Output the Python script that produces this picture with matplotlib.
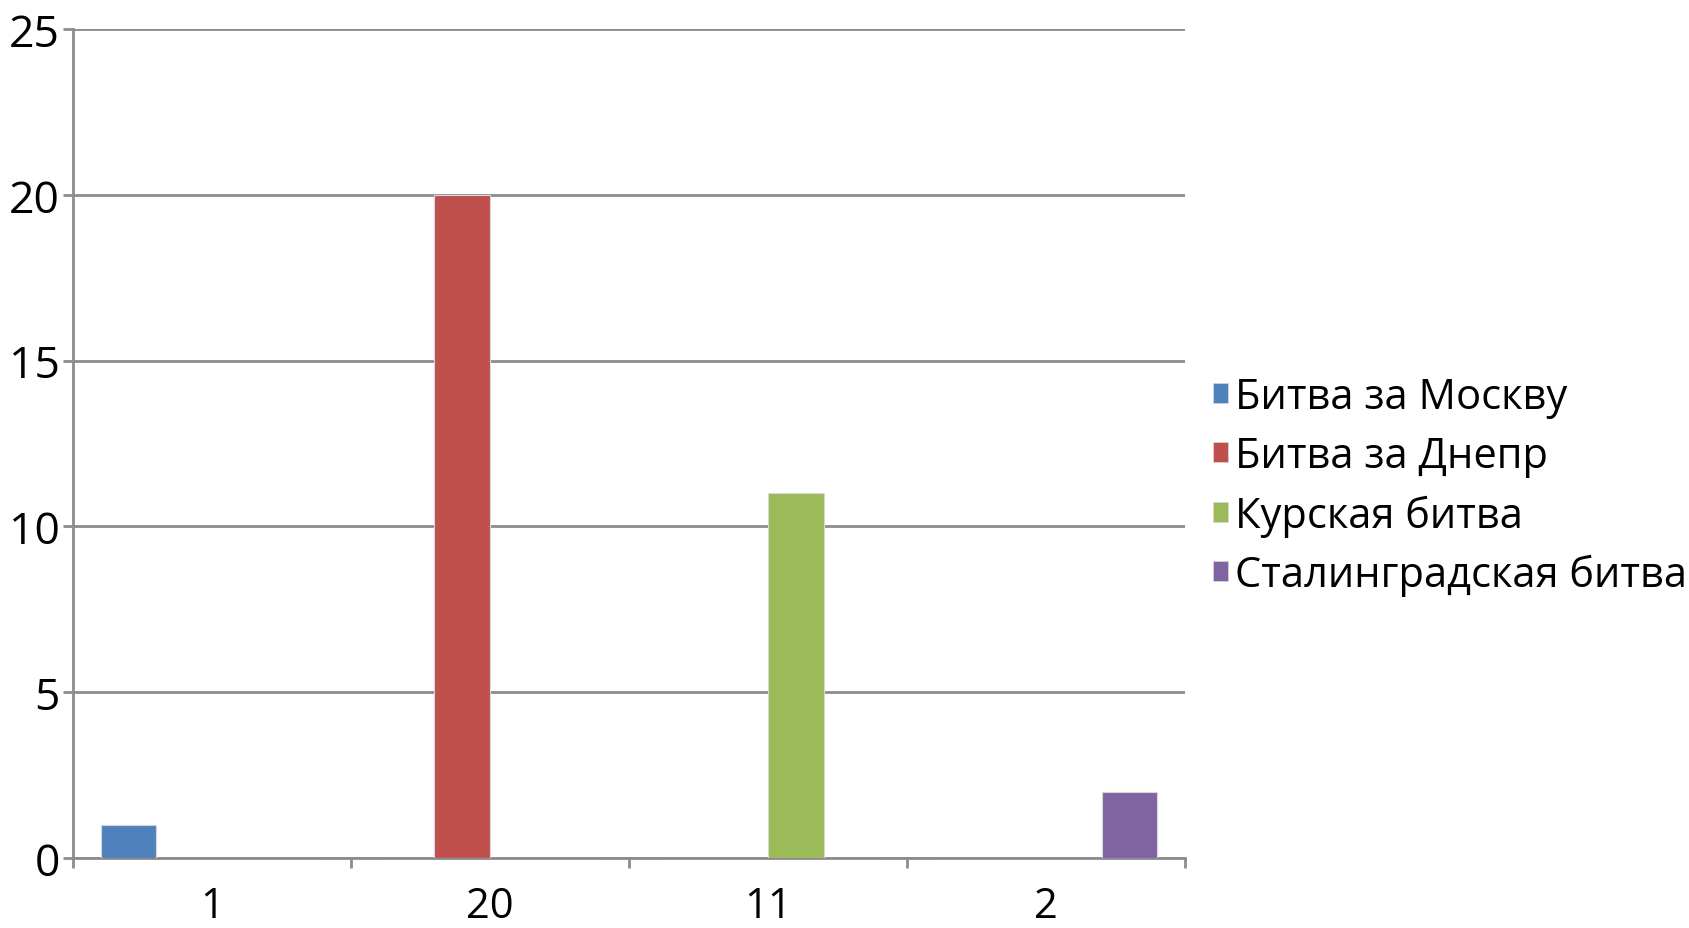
import matplotlib
matplotlib.use("Agg")
import matplotlib.pyplot as plt
from matplotlib.patches import Patch
import numpy as np

plt.rcParams['font.family'] = ['Open Sans', 'DejaVu Sans']

categories = ["1", "20", "11", "2"]
series_names = ["Битва за Москву", "Битва за Днепр", "Курская битва", "Сталинградская битва"]
moscow = [1, 0, 0, 0]
dnepr = [0, 20, 0, 0]
kursk = [0, 0, 11, 0]
stalingrad = [0, 0, 0, 2]
colors = ["#4F81BD", "#C0504D", "#9BBB59", "#8064A2"]
y_ticks = [0, 5, 10, 15, 20, 25]

series = [moscow, dnepr, kursk, stalingrad]

fig = plt.figure(figsize=(16.9, 9.29), dpi=100)
ax = fig.add_axes([73/1690, 1-859/929, (1185-73)/1690, (859-30)/929])

n = len(series)
width = 1.0 / (n + 1)
x = np.arange(len(categories)) + 0.5
for i, (vals, c, name) in enumerate(zip(series, colors, series_names)):
    offs = (i - (n - 1) / 2) * width
    ax.bar(x + offs, vals, width=width, color=c, edgecolor="#d8d8d8", linewidth=0.8, zorder=3, label=name)

ax.set_xlim(0, len(categories))
ax.set_ylim(0, 25)
ax.set_yticks(y_ticks)
ax.set_yticklabels([str(v) for v in y_ticks])
ax.yaxis.grid(True, color="#8c8c8c", linewidth=2, zorder=1)
ax.set_axisbelow(True)

ax.set_xticks(np.arange(len(categories) + 1))
ax.set_xticklabels([""] * (len(categories) + 1))
ax.set_xticks(x, minor=True)
ax.set_xticklabels(categories, minor=True)
ax.tick_params(axis='x', which='major', direction='out', length=7, width=2, color="#8c8c8c")
ax.tick_params(axis='x', which='minor', length=0, pad=19.5, labelsize=30)
ax.tick_params(axis='y', direction='out', length=7, width=2, color="#8c8c8c", pad=2.5, labelsize=32)

for s in ['top', 'right']:
    ax.spines[s].set_visible(False)
for s in ['left', 'bottom']:
    ax.spines[s].set_color("#8c8c8c")
    ax.spines[s].set_linewidth(2)

handles = [Patch(facecolor=c, edgecolor="#d8d8d8", linewidth=0.5) for c in colors]
leg = fig.legend(handles, series_names, loc="upper left", bbox_to_anchor=(1213/1690, 1-377/929),
                 frameon=False, fontsize=30, handlelength=0.36, handleheight=0.36,
                 handletextpad=0.17, labelspacing=0.415, borderaxespad=0, borderpad=0)

fig.savefig("out.png", dpi=100)
